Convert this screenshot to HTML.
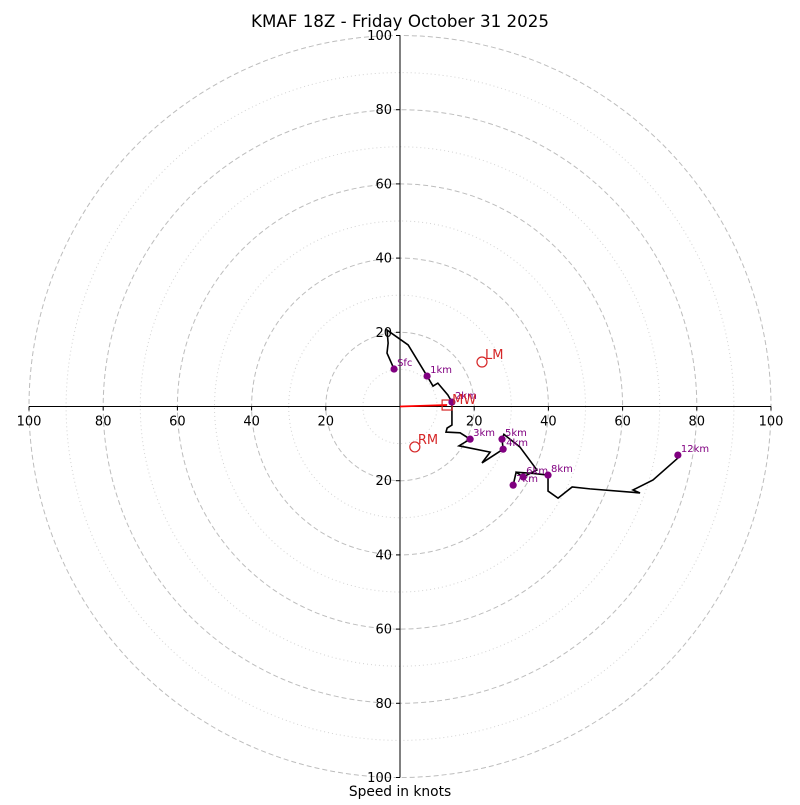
<!DOCTYPE html>
<html><head><meta charset="utf-8"><style>
html,body{margin:0;padding:0;background:#fff;}
svg text{font-family:"DejaVu Sans","Liberation Sans",sans-serif;}
</style></head><body>
<svg id="chart" width="800" height="800" viewBox="0 0 800 800" xmlns="http://www.w3.org/2000/svg">
<rect width="800" height="800" fill="#fff"/>
<text x="400" y="27" text-anchor="middle" font-size="16.7">KMAF 18Z - Friday October 31 2025</text>
<text x="400" y="796" text-anchor="middle" font-size="13.8">Speed in knots</text>
<g id="grid"></g><g id="axes"></g><g id="trace"></g><g id="marks"></g>
</svg>
<script>
const ringMajor = [20, 40, 60, 80, 100];
const ringMinor = [10, 30, 50, 70, 90];
const tickLabels = [100, 80, 60, 40, 20, 20, 40, 60, 80, 100];
const tickValues = [-100, -80, -60, -40, -20, 20, 40, 60, 80, 100];
const traceU = [-1.6,-3.5,-3.2,-3.5,2.2,7.3,8.9,10.2,12.9,14.0,14.0,12.7,12.4,16.2,18.9,15.9,24.3,22.1,27.8,27.5,28.0,32.3,36.9,33.2,31.3,30.5,31.3,35.6,39.9,39.9,42.6,46.4,51.2,64.7,62.8,68.2,74.9];
const traceV = [10.1,14.4,17.1,20.6,16.6,8.2,5.5,6.3,3.1,1.2,-5.0,-5.8,-6.9,-7.1,-8.8,-10.6,-12.3,-15.2,-11.5,-8.8,-7.5,-10.9,-17.1,-19.0,-17.7,-21.2,-17.7,-18.0,-18.5,-22.8,-24.7,-21.7,-22.2,-23.3,-22.5,-19.8,-13.9];
const levelNames = ["Sfc","1km","2km","3km","4km","5km","6km","7km","8km","12km"];
const levelU = [-1.6,7.3,14.0,18.9,27.8,27.5,33.2,30.5,39.9,74.9];
const levelV = [10.1,8.2,1.2,-8.8,-11.5,-8.8,-19.0,-21.2,-18.5,-13.1];
const stormNames = ["LM","RM"];
const stormU = [22.1,4.0];
const stormV = [12.0,-10.9];
const meanWindU = 12.7, meanWindV = 0.4;

const CX=400, CY=406.5, S=3.71;
const sx=u=>CX+u*S, sy=v=>CY-v*S;
const NS="http://www.w3.org/2000/svg";
function mk(tag,attrs,parent,txt){const e=document.createElementNS(NS,tag);for(const k in attrs)e.setAttribute(k,attrs[k]);if(txt!==undefined)e.textContent=txt;document.getElementById(parent).appendChild(e);return e;}

ringMinor.forEach(r=>{const c=mk('circle',{cx:CX,cy:CY,r:r*S,fill:'none',stroke:'#d3d3d3','stroke-width':1,'stroke-dasharray':'1,3'},'grid');

});
ringMajor.forEach(r=>{const c=mk('circle',{cx:CX,cy:CY,r:r*S,fill:'none',stroke:'#bdbdbd','stroke-width':1,'stroke-dasharray':'5,3'},'grid');

});

let a=mk('line',{x1:sx(-100),y1:CY,x2:sx(100),y2:CY,stroke:'#000','stroke-width':1},'axes');


a=mk('line',{x1:CX,y1:sy(100),x2:CX,y2:sy(-100),stroke:'#000','stroke-width':1},'axes');


tickValues.forEach((t,i)=>{
 let k=mk('line',{x1:sx(t),y1:CY,x2:sx(t),y2:CY+4,stroke:'#000'},'axes');
 
 
 let l=mk('text',{x:sx(t),y:CY+19,'text-anchor':'middle','font-size':13},'axes',tickLabels[i]);
 
 
 k=mk('line',{x1:CX-4,y1:sy(t),x2:CX,y2:sy(t),stroke:'#000'},'axes');
 
 
 l=mk('text',{x:CX-8,y:sy(-t)+4.5,'text-anchor':'end','font-size':13},'axes',tickLabels[i]);
 
 
});

const pl=mk('polyline',{points:traceU.map((u,i)=>sx(u)+','+sy(traceV[i])).join(' '),fill:'none',stroke:'#000','stroke-width':1.6},'trace');



const arr=mk('line',{x1:CX,y1:CY,x2:sx(meanWindU),y2:sy(meanWindV),stroke:'#f00','stroke-width':1.8},'marks');


const mw=mk('rect',{x:sx(meanWindU)-5,y:sy(meanWindV)-5,width:10,height:10,fill:'none',stroke:'#d62728','stroke-width':1.2},'marks');



levelNames.forEach((n,i)=>{
 const d=mk('circle',{cx:sx(levelU[i]),cy:sy(levelV[i]),r:3.6,fill:'purple'},'marks');
 
 
 const t=mk('text',{x:sx(levelU[i])+3,y:sy(levelV[i])-3,'font-size':10,fill:'purple'},'marks',n);
 
 
});
const mwt=mk('text',{x:sx(meanWindU)+5,y:sy(meanWindV)-1,'font-size':13,fill:'#d62728'},'marks','MW');


stormNames.forEach((n,i)=>{
 const c=mk('circle',{cx:sx(stormU[i]),cy:sy(stormV[i]),r:5,fill:'none',stroke:'#d62728','stroke-width':1.2},'marks');
 
 
 const t=mk('text',{x:sx(stormU[i])+3,y:sy(stormV[i])-3,'font-size':13,fill:'#d62728'},'marks',n);
 
 
});
</script>
</body></html>
